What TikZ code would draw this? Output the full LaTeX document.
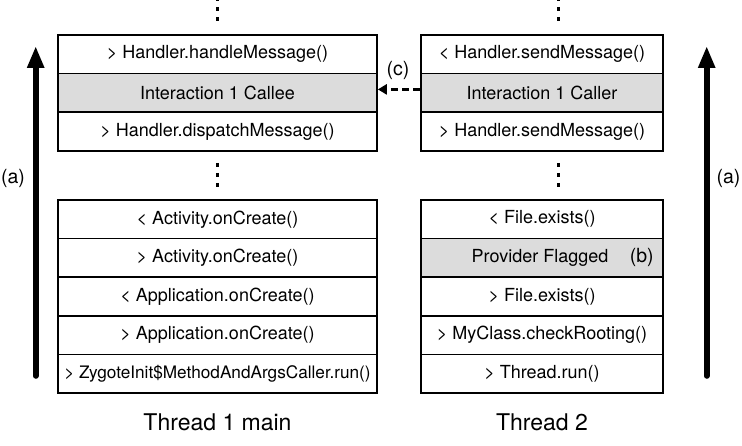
\documentclass[tikz,border=0pt]{standalone}
\usepackage{fontspec}
\setmainfont{TeX Gyre Heros}
\usetikzlibrary{arrows.meta}
\definecolor{rowgray}{HTML}{DCDCDC}
\tikzset{
  rowbox/.style={draw=black, line width=1.6pt, fill=white, minimum height=38.6pt, inner sep=0pt, font=\fontsize{18}{21}\selectfont},
  lrow/.style={rowbox, minimum width=319pt},
  rrow/.style={rowbox, minimum width=242.5pt},
  hl/.style={fill=rowgray},
  lbl/.style={font=\fontsize{19.5}{23}\selectfont, inner sep=0pt},
  thr/.style={font=\fontsize{23}{27}\selectfont, inner sep=0pt},
  vdots/.style={line width=2.6pt, dash pattern=on 4pt off 6pt},
  bigarrow/.style={line width=5.6pt, line cap=round, -{Triangle[width=16pt,length=22pt]}},
  callarrow/.style={line width=3pt, dash pattern=on 7pt off 4pt, -{Triangle[width=10pt,length=9pt]}}
}
\begin{document}
\begin{tikzpicture}[x=1pt,y=-1pt]
\useasboundingbox (0,0) rectangle (742,446);
% left column, top stack
\node[lrow] (l1) at (217.5,54.3) {> Handler.handleMessage()};
\node[lrow,hl] (l2) at (217.5,92.9) {Interaction 1 Callee};
\node[lrow] (l3) at (217.5,131.5) {> Handler.dispatchMessage()};
% left column, bottom stack
\node[lrow] (l4) at (217.5,219.3) {< Activity.onCreate()};
\node[lrow] (l5) at (217.5,257.9) {> Activity.onCreate()};
\node[lrow] (l6) at (217.5,296.5) {< Application.onCreate()};
\node[lrow] (l7) at (217.5,335.1) {> Application.onCreate()};
\node[lrow,font=\fontsize{17.2}{20}\selectfont] (l8) at (217.5,373.7) {> ZygoteInit\$MethodAndArgsCaller.run()};
% right column, top stack
\node[rrow] (r1) at (542,54.3) {< Handler.sendMessage()};
\node[rrow,hl] (r2) at (542,92.9) {Interaction 1 Caller};
\node[rrow] (r3) at (542,131.5) {> Handler.sendMessage()};
% right column, bottom stack
\node[rrow] (r4) at (542,219.3) {< File.exists()};
\node[rrow,hl] (r5) at (542,257.9) {\hspace*{-4pt}Provider Flagged};
\node[rrow] (r6) at (542,296.5) {> File.exists()};
\node[rrow] (r7) at (542,335.1) {> MyClass.checkRooting()};
\node[rrow] (r8) at (542,373.7) {> Thread.run()};
\node[lbl] (b) at (641.7,257.9) {(b)};
% dots
\draw[vdots] (217.5,-3) -- (217.5,21);
\draw[vdots] (217.5,163) -- (217.5,187);
\draw[vdots] (558.3,-3) -- (558.3,21);
\draw[vdots] (558.3,163) -- (558.3,187);
% big arrows
\coordinate (la0) at (35.7,376);
\coordinate (la1) at (35.7,46);
\coordinate (ra0) at (706.7,376);
\coordinate (ra1) at (706.7,46);
\draw[bigarrow] (la0) -- (la1);
\draw[bigarrow] (ra0) -- (ra1);
\node[lbl] (al) at (13,178) {(a)};
\node[lbl] (ar) at (728.5,178) {(a)};
% call arrow
\draw[callarrow] ([yshift=3.5pt]r2.west) -- ([yshift=3.5pt]l2.east);
\node[lbl] (c) at (398,70) {(c)};
% thread labels
\node[thr] (t1) at (217.5,422) {Thread 1 main};
\node[thr] (t2) at (542,422) {Thread 2};
\end{tikzpicture}
\end{document}
